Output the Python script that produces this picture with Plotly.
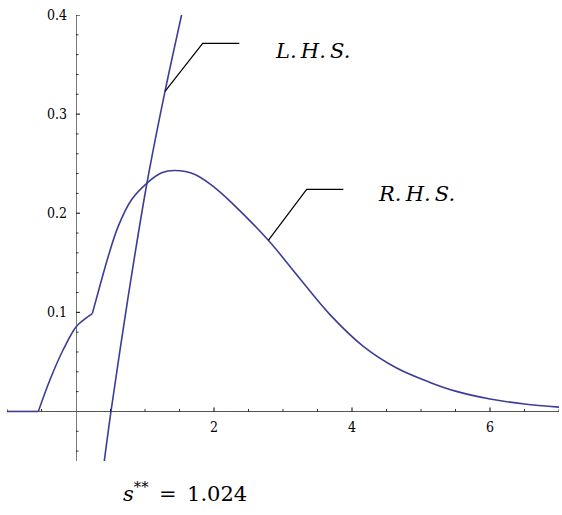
import plotly.graph_objects as go

# ---- data ----
lhs_x = [0.41, 0.507, 0.75, 1.03, 1.29, 1.53]
lhs_y = [-0.05, 0.0, 0.113, 0.231, 0.323, 0.40]

rhs_flat_x = [-1.0, -0.546]
rhs_flat_y = [0.0, 0.0]

rhs_left_x = [-0.546, -0.377, -0.184, 0.0, 0.12, 0.236]
rhs_left_y = [0.0, 0.032, 0.0625, 0.0853, 0.0928, 0.0987]

rhs_right_x = [0.236, 0.324, 0.468, 0.613, 0.807, 1.034, 1.242, 1.435, 1.725, 2.014,
               2.25, 2.787, 3.198, 3.681, 4.164, 4.647, 5.13, 5.5, 6.0, 6.5, 7.0]
rhs_right_y = [0.0987, 0.121, 0.1566, 0.187, 0.2138, 0.2307, 0.2408, 0.2431, 0.2391, 0.2256,
               0.211, 0.1727, 0.138, 0.0977, 0.0657, 0.0438, 0.0293, 0.0205, 0.0125, 0.0075, 0.0044]

x_major_ticks = [2, 4, 6]
x_major_labels = ["2", "4", "6"]
x_minor_ticks = [-1.0, -0.5, 0.5, 1.0, 1.5, 2.5, 3.0, 3.5, 4.5, 5.0, 5.5, 6.5, 7.0]
y_major_ticks = [0.1, 0.2, 0.3, 0.4]
y_major_labels = ["0.1", "0.2", "0.3", "0.4"]
y_minor_ticks = [-0.04, -0.02, 0.02, 0.04, 0.06, 0.08, 0.12, 0.14, 0.16, 0.18,
                 0.22, 0.24, 0.26, 0.28, 0.32, 0.34, 0.36, 0.38]

lhs_leader_x = [1.29, 1.836, 2.367]
lhs_leader_y = [0.323, 0.3714, 0.3714]
rhs_leader_x = [2.787, 3.343, 3.874]
rhs_leader_y = [0.1727, 0.224, 0.224]

lhs_label = ("L.H.S.", 3.43, 0.364)
rhs_label = ("R.H.S.", 4.94, 0.219)
s_value = 1.024

LINE = "#3d3d99"
AXIS_X = "#555555"
AXIS_Y = "#7a7a7a"
TICK_FAMILY = "DejaVu Serif Condensed, DejaVu Serif"
TEXT_FAMILY = "DejaVu Serif"

fig = go.Figure()
line_style = dict(color=LINE, width=1.6)
fig.add_trace(go.Scatter(x=lhs_x, y=lhs_y, mode="lines", line=dict(shape="spline", smoothing=0.8, **line_style)))
fig.add_trace(go.Scatter(x=rhs_flat_x, y=rhs_flat_y, mode="lines", line=line_style))
fig.add_trace(go.Scatter(x=rhs_left_x, y=rhs_left_y, mode="lines", line=dict(shape="spline", smoothing=1.0, **line_style)))
fig.add_trace(go.Scatter(x=rhs_right_x, y=rhs_right_y, mode="lines", line=dict(shape="spline", smoothing=1.0, **line_style)))
fig.add_trace(go.Scatter(x=lhs_leader_x, y=lhs_leader_y, mode="lines", line=dict(color="black", width=1.2)))
fig.add_trace(go.Scatter(x=rhs_leader_x, y=rhs_leader_y, mode="lines", line=dict(color="black", width=1.2)))

shapes = []
for t in x_major_ticks:
    shapes.append(dict(type="line", xref="x", yref="y", ysizemode="pixel", yanchor=0,
                       x0=t, x1=t, y0=0, y1=4, line=dict(color="black", width=1)))
for t in x_minor_ticks:
    shapes.append(dict(type="line", xref="x", yref="y", ysizemode="pixel", yanchor=0,
                       x0=t, x1=t, y0=0, y1=2.5, line=dict(color="black", width=0.8)))
for t in y_major_ticks:
    shapes.append(dict(type="line", xref="x", yref="y", xsizemode="pixel", xanchor=0,
                       x0=0, x1=4, y0=t, y1=t, line=dict(color="black", width=1)))
for t in y_minor_ticks:
    shapes.append(dict(type="line", xref="x", yref="y", xsizemode="pixel", xanchor=0,
                       x0=0, x1=2.5, y0=t, y1=t, line=dict(color="black", width=0.8)))

tick_font = dict(family=TICK_FAMILY, size=14, color="black")
annotations = []
for t, lab in zip(x_major_ticks, x_major_labels):
    annotations.append(dict(x=t, y=0, xref="x", yref="y", text=lab, showarrow=False,
                            xanchor="center", yanchor="top", yshift=-6, font=tick_font))
for t, lab in zip(y_major_ticks, y_major_labels):
    annotations.append(dict(x=0, y=t, xref="x", yref="y", text=lab, showarrow=False,
                            xanchor="right", yanchor="middle", xshift=-7, font=tick_font))

label_font = dict(family=TEXT_FAMILY, size=21, color="black")
for txt, lx, ly in (lhs_label, rhs_label):
    annotations.append(dict(x=lx, y=ly, xref="x", yref="y",
                            text="<i>" + txt.replace(".", ".\u2009").strip() + "</i>",
                            showarrow=False, xanchor="center", yanchor="middle", font=label_font))
annotations.append(dict(x=0.322, y=-0.07, xref="paper", yref="paper",
                        xanchor="center", yanchor="middle",
                        text=f"<i>s</i><sup>**</sup>\u2002=\u2002{s_value:.3f}", showarrow=False,
                        font=dict(family=TEXT_FAMILY, size=21, color="black")))

fig.update_layout(
    width=562, height=515,
    margin=dict(l=7, r=3, t=15, b=54),
    paper_bgcolor="white", plot_bgcolor="white",
    showlegend=False,
    shapes=shapes, annotations=annotations,
    xaxis=dict(range=[-1, 7], showgrid=False, showticklabels=False, ticks="",
               zeroline=True, zerolinecolor=AXIS_Y, zerolinewidth=1.3),
    yaxis=dict(range=[-0.05, 0.4], showgrid=False, showticklabels=False, ticks="",
               zeroline=True, zerolinecolor=AXIS_X, zerolinewidth=1.3),
)

fig.write_html("out.html")
